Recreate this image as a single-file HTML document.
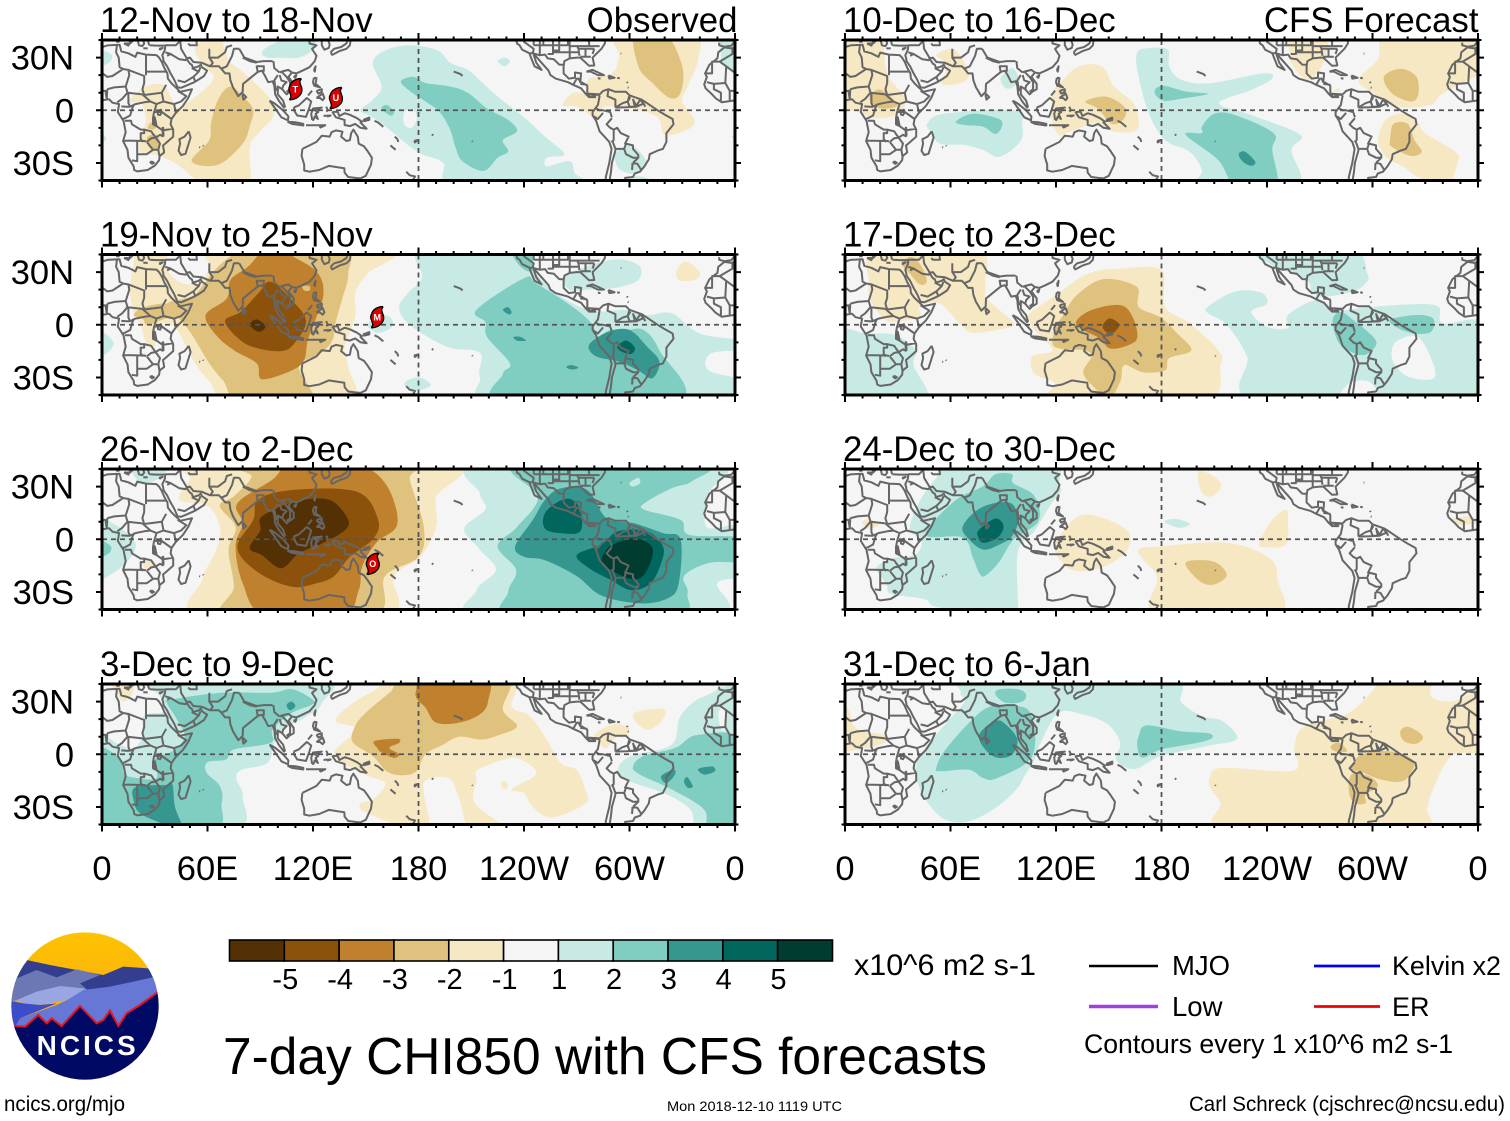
<!DOCTYPE html>
<html lang="en">
<head>
<meta charset="utf-8">
<title>7-day CHI850 with CFS forecasts</title>
<style>
html,body{margin:0;padding:0;background:#fff;}
svg{display:block;}
text{font-family:"Liberation Sans",Arial,sans-serif;fill:#000;}
</style>
</head>
<body>
<svg id="chart" xmlns="http://www.w3.org/2000/svg" width="1510" height="1121" viewBox="0 0 1510 1121">
  <defs>
    <linearGradient id="sun" x1="0" y1="0" x2="0" y2="1"><stop offset="0" stop-color="#ffc400"/><stop offset="1" stop-color="#f09a1e"/></linearGradient>
    <clipPath id="logo-clip"><circle cx="255" cy="258" r="221"/></clipPath>
  </defs>
  <g id="panels"></g>
  <g id="colorbar"></g>
  <text x="854" y="975" font-size="30" textLength="182" lengthAdjust="spacingAndGlyphs">x10^6 m2 s-1</text>
  <text x="223" y="1074" font-size="51.5" textLength="764" lengthAdjust="spacingAndGlyphs">7-day CHI850 with CFS forecasts</text>
  <text x="667" y="1111" font-size="14" textLength="175" lengthAdjust="spacingAndGlyphs">Mon 2018-12-10 1119 UTC</text>
  <text x="4" y="1111" font-size="21" textLength="121" lengthAdjust="spacingAndGlyphs">ncics.org/mjo</text>
  <text x="1189" y="1111" font-size="21" textLength="316" lengthAdjust="spacingAndGlyphs">Carl Schreck (cjschrec@ncsu.edu)</text>
  <g>
    <line x1="1089" y1="966" x2="1158" y2="966" stroke="#000" stroke-width="2.4"/>
    <text x="1172" y="975" font-size="27.5">MJO</text>
    <line x1="1314" y1="966" x2="1380" y2="966" stroke="#0000f0" stroke-width="2.8"/>
    <text x="1392" y="975" font-size="27" textLength="109" lengthAdjust="spacingAndGlyphs">Kelvin x2</text>
    <line x1="1089" y1="1006.5" x2="1158" y2="1006.5" stroke="#a040e0" stroke-width="3.4"/>
    <text x="1172" y="1016" font-size="27.5">Low</text>
    <line x1="1314" y1="1006.5" x2="1380" y2="1006.5" stroke="#f00000" stroke-width="2.8"/>
    <text x="1392" y="1016" font-size="27">ER</text>
    <text x="1084" y="1053" font-size="26.5" textLength="369" lengthAdjust="spacingAndGlyphs">Contours every 1 x10^6 m2 s-1</text>
  </g>
  <g transform="translate(0,920) scale(0.3333)">
    <g clip-path="url(#logo-clip)">
      <rect x="20" y="20" width="470" height="470" fill="url(#sun)"/>
      <polygon fill="#333f8e" points="20,190 80,120 150,135 230,150 310,165 370,140 445,145 490,190 330,215 100,200"/>
      <polygon fill="#6b78b4" points="20,205 50,175 110,150 170,172 230,148 300,165 240,190 265,212 120,232 20,245"/>
      <polygon fill="#99a6e2" points="50,240 110,215 180,198 250,205 265,212 200,240 120,255 70,250"/>
      <polygon fill="#6677d6" points="250,210 330,200 490,165 490,230 420,260 380,290 360,325 335,280 300,320 240,268 180,325 150,310 115,295 75,330 35,330 60,295 170,255 205,238"/>
      <polygon fill="#3d4cc8" points="20,240 70,250 120,255 170,250 60,295 40,330 20,330"/>
      <polygon fill="#000a64" points="20,318 75,320 115,285 140,310 155,295 185,318 240,258 290,310 310,300 330,272 355,318 380,280 420,255 490,205 490,490 20,490"/>
      <polyline fill="none" stroke="#e8141e" stroke-width="6" points="40,318 75,320 115,285 140,310 155,295 185,318 240,258 290,310 310,300 330,272 355,318 380,280 420,255 475,215"/>
    </g>
    <text x="110" y="405" font-size="84" font-weight="bold" textLength="297" lengthAdjust="spacing" style="fill:#fff">NCICS</text>
  </g>
</svg>
<script>
/* ---------- axis tick values and labels ---------- */
const lonTicks = [0, 60, 120, 180, 240, 300, 360];
const lonTickLabels = ['0', '60E', '120E', '180', '120W', '60W', '0'];
const latTicks = [30, 0, -30];
const latTickLabels = ['30N', '0', '30S'];
const panelTitles = ['12-Nov to 18-Nov', '19-Nov to 25-Nov', '26-Nov to 2-Dec', '3-Dec to 9-Dec',
                     '10-Dec to 16-Dec', '17-Dec to 23-Dec', '24-Dec to 30-Dec', '31-Dec to 6-Jan'];
const colorbarLabels = ['-5', '-4', '-3', '-2', '-1', '1', '2', '3', '4', '5'];

/* ---------- storms: [panel, letter, lon, lat] ---------- */
const storms = [[0, 'T', 110, 12], [0, 'U', 133, 7], [1, 'M', 156.5, 4.3], [2, 'O', 154, -14]];

/* ---------- filled contours: [level, lon, lat, lon, lat, ...]  level 0 = below |1| ---------- */
const contoursNov12 = [
 [1, 175,37,191,34,198,27,208,23,217,15,226,7,240,-4,252,-15,263,-25,253,-27,253,-32,266,-29,269,-36,275,-41,201,-41,194,-30,182,-25,173,-19,161,-9,152,-3,147,0,154,6,159,13.5,154,27,161,34],
 [0, 172,-1,177,0.5,179,-5,176,-10,172,-8],
 [1, 91,33,98,38,121,42,120,35,112,30,101,30,94,30],
 [1, 225,28,229,30,232,28,229,25],
 [1, 292.5,-24,301,-20,310,-30,303,-36,295,-34,292,-29],
 [1, 303,-38,311,-39,316,-41,303,-41],
 [1, -2,35,5,32,4,27,-2,25],
 [1, -1,-13,2,-15,2,-17,-1,-18],
 [1, 362,41,353,41,352,32,354,25,362,22],
 [1, 358,-15,362,-13,362,-18],
 [2, 170,16.5,177,19,184,15.5,198,13.5,208,10,219,1,231,-5.5,236,-12,228,-17,231,-23.5,225,-27,217,-34.5,205,-29,201,-21,198,-11,192,-1,184,5,175,11],
 [2, 159,1,162,3,166,-1,164,-3],
 [-1, 55,38,66,40,71,31,73,27,81,21,96,6,97,-4,89,-13,84,-21,83,-41,61,-41,43,-31,31,-25.5,22,-24,22,-15,25,-5.5,22,4,15,5,25,13.5,35,14.5,40,6,45,2,63,17,58,25,53,33],
 [-1, 293,41,336,41,339,29,333,13.5,330,5,337,-5.5,333,-11,320,-14,316,-4,301,1,286,2,281,-4,270,2,262,3,268,10,276,10,277,18,290,21,294,31],
 [-2, 73,13.5,81,7,86,0,84,-9,80,-19,66,-31,51,-29,61,-17,62,-7.5,66,6],
 [-2, 28,-7,31,-9,29,-11,26,-10],
 [-2, 26,-15,31,-14,33,-19,30,-23,26,-20],
 [-2, 303,41,320,41,330,25,329,10,323,7,313,15.5,305,25]
];
const contoursNov19 = [
 [-1, 165,41,151,29,144,18,144,5,138,-13,140,-24,140,-41,75,-41,61,-32,53,-22,44,-5,39,0,31,0,30,-12,25,-10,22,0,18,6.5,16,20,18,35,20,41,37,41,36,33,45,24,57,24,61,33,68,41],
 [-1, 327,31,332,36,340,30,337,25.5,328,25.5],
 [-2, 80,41,136,41,140,29,137,16,133,2,131,-9,124,-16.5,112,-24,119,-41,79,-41,69,-32,61,-22,52,-7,47,0,43,4.5,37,12,51,16,57,22,64,31,73,39],
 [-2, 18,5.5,24,10,38,12,45,5.5,36,3.5,26,0,23,3.5],
 [-3, 95,41,112,37,123,29,126,18,122,4.5,117,-9,115,-20,108,-26,91,-31,88,-22,75,-14.5,65,-6,59,5.5,71,15,73,25.5,83,33],
 [-2, 114,22,118,22,118,19.5,115,19.5],
 [-4, 96,24.5,108,14,116,2,109,-11,102,-15,89,-13.5,79,-9,70,2,79,7.5,89,18],
 [-5, 84,0,88,3,93,-1,89,-4],
 [1, 181,41,231,41,245,31,254,21.5,268,12,281,7.5,298,8.5,310,5.5,324,6.5,340,-5,361,-9,361,-14,346,-16.5,345,-26,361,-32,361,-41,227,-41,215,-30,215,-16,196,-12.5,175,0,169,10,174,18,182,27],
 [1, 264,28,290,37,305,34,305,25.5,292,21,277,20,266,20],
 [1, -1,-4,6.5,-10,3.5,-15.5,-1,-17],
 [1, 172,-33,180,-30,187,-34,182,-37,175,-37],
 [1, 151,0,159,5.5,165,3,164,-2,156.5,-4.5],
 [2, 213,8.5,240,26.5,247,23.5,268,10,279,0,281,-7,289,-3,298,-3,308,-3,317,-14.5,327,-41,228,-41,228,-28,232,-22,219,-7,218,1.5],
 [2, 232,41,243,41,245,31,238,33],
 [3, 277,-11.5,288,-4,300,-3,310,-12.5,317,-21,313,-30.5,305,-26,294,-21,281,-18],
 [3, 228,8.5,231,10,233,7,231,6],
 [3, 234,-7,238,-7,241,-9,236,-9],
 [3, 264,-24,267,-23,271,-24.5,267,-25.5],
 [4, 293,-12.5,298,-9,303,-13,301,-16.5,296,-15.5]
];
const contoursNov26 = [
 [-1, 57,40,197,40,190,24,190,7,181,-10,166,-21,160,-41,56,-41,57,-23,65,-6,67,7,60,19,44,22.5,50,34],
 [-1, 23.5,-14.5,27.5,-12,30.5,-14,26,-17],
 [-2, 75,40,175,40,175,34,183,7,180,-10,161,-21,153,-41,72,-41,75,-27,72,-6,76,7,67,19,75,24.5,85,36],
 [-3, 97,34,108,40,143,40,161,32,168,9,156,-2,148,-15.5,146,-29,136,-41,93,-41,80,-25,76,-4,80,9,77,20.5],
 [-4, 89,22.5,108,28,145,27,157,11,154,0,141,-10,132,-21,122,-25,108,-27,89,-19,77,-5,86,11],
 [-5, 91,13,110,21.5,129,22.5,139,13,139,6,126,-2,112,-8,102,-16.5,91,-9,84,-5,90,5],
 [1, 18,40,36,40,34.5,36,25,32,19,35],
 [1, -1,9,8,8,19,-2,15,-12,5,-20,-1,-20],
 [2, -1,-1,5,-4,4,-8,-1,-9.5],
 [1, 216,40,347,40,345,26,344,7,361,6.5,361,-19.5,350,-25,347,-41,217,-41,213,-29,224,-17.5,215,-6,206,6,218,17,215,26],
 [2, 237,40,340,40,335.5,33,324,29,310,21.5,308,17,329,11,334,2.5,361,0.5,361,-12,345,-13.5,331,-21,333,-31,324,-41,234,-41,231,-30,235.5,-17.5,225,-4,236,7,248,24],
 [1, 300,32,305,35,306,32,302,30],
 [3, 261,29,276,28,287,12,303,9,319,3.5,329,0,328,-25,322,-33.5,306,-36.5,284,-32,270,-21,252,-12,240,-10,235,-4,245,11,252,22.5],
 [4, 258,20.5,266,23,272,17,272,4.5,261,3.5,252,6,251.5,14],
 [4, 270,-9,284,-3,293.5,4.5,310,4.5,319,-4,318,-13.5,312,-25,301,-29,289,-23,277,-16.5],
 [5, 284,-12,289,-4,303,0.5,313,-5,310,-17.5,303,-23,291,-18.5,286,-14.7]
];
const contoursDec3 = [
 [1, 29,41,125,41,125,29,117,22,103,14,98,6.5,94,-5,79,-9,76.5,-14.5,80,-24,74,-41,-3,-41,-3,9,10,5.5,17,2.5,23,10,24,22,36,24.5,33,33],
 [2, 39,31,68,35,96,35,108,37,120,31,119,28,108,23.5,97,14,96,6.5,75,2.7,70.5,-3,60,-4.5,59.5,-10.5,67,-18,68,-28,61,-41,-3,-41,-3,2,10,-2,12.5,-11,20,-13.5,31,-13.5,30,-3,40,1.7,47,10,42.5,20,37,29],
 [3, 19,-18.7,36,-17.5,40,-17,41.5,-30,46,-41,33,-39,21.5,-33.5,18,-26.5],
 [3, 105,28,107.7,30,110,27.5,107,25],
 [-1, 4,41,18,41,17,34,12,30,9,34],
 [-1, 168,41,231,41,233,27,243,22,252,10,261,-5,270,-9,275,-20.5,275,-28,256,-36,245,-30,240,-22,233,-20,247,-11,238,-3,229,-3,213.5,-9,213,-15,211,-24.5,215,-31,231,-41,210,-41,203,-24.5,197,-13.5,184,-15,183,-22,184,-41,151,-33.5,147,-28,154,-26,161,-16.5,149.5,-11.6,132,0,145,14,133,19,142.5,29,156,37],
 [-1, 227,-17,228.6,-15,231,-18,228.6,-20],
 [-2, 175,41,229,41,228,25.5,236,16,226,11,216,8.4,203,10,194,5.5,184,0,177.5,-10.7,163.5,-10.7,154,-1,142.5,7,144,16,150,23.6,163.5,35],
 [-3, 178.6,36,184,41,218,41,219.5,30,214.7,22.6,203,18,190,18,184,26.5,179.4,31],
 [-3, 155,7.5,168,8.8,169,6.5,163.4,3.6,169,0,166,-2,159,1,156.5,3.6],
 [1, 293.7,-8,300.8,-1,324,5.5,329,21.7,342.6,33,361,33,361,-41,339,-41,335,-32,321.6,-23,298,-14.5],
 [0, 350.7,23.6,354,26.5,355,15,352,14.5],
 [2, 302,-7,308,-1,326,3.6,339,11,361,6.5,361,-41,345,-41,342.5,-31.6,324,-20,306,-11.6],
 [3, 318,-12.5,325,-8.8,325.8,-11.6,321,-16.4],
 [3, 331,-15.4,332.8,-13,336,-18.3,333,-19],
 [3, 339,-8.4,347,-7,348.5,-9.7,342.5,-11.6],
 [-1, 303,23.6,319,25.8,319,19.8,311,14,304,18],
 [-1, 280,11,291,17,299.5,15,298,10,292,9.3,287,3.6,283.5,5.5]
];
const contoursDec10 = [
 [-1, -2,41,19,41,23,25,26,17,34.5,6,28.6,-2.7,17,-4.6,7.7,-0.8,-2,5],
 [-1, 52,31.5,61,35,67,28.7,70.5,20,66,15.5,55,15,57.6,23,56.5,27.7],
 [-1, 124,17.3,133,25,146,25,153,13.5,164.6,3,166,-11,151.9,-12,142.5,-7.4,128.6,-12,121.6,-14,117.4,-4.5,118,9.7],
 [-1, 253,30.6,254,41,272.8,41,272.8,28.7,265.8,18,260,19,255,25],
 [-1, 310,41,361,41,361,24,340,9.7,333,3,314.7,2,300.8,9.7,292,17.3,303,28.7],
 [-1, 307.7,-5.5,317,-2,326,-7.4,329.8,-13,347,-23.6,348.4,-30,341.4,-41,325,-37.5,319,-33,307.7,-26.5,303,-17],
 [-1, 278.5,11.6,281,12.6,281.6,10.7,278.5,10.5],
 [-2, 14.6,8.8,20.5,11.6,29.8,3,20.5,1,14.6,5],
 [-2, 136.7,5,148.4,7.8,158.8,2,158.8,-4.6,151.9,-7.8,143.7,1],
 [-2, 306.5,19,316,23.6,325,19,326,8.8,321.6,5,311,9.7],
 [-2, 310,-17,312,-7.8,320,-7.8,323.9,-17,328,-23.6,321.6,-26,311,-20.8],
 [1, 47,-7.4,56.5,-2,96,0,100.7,-8.4,99.5,-18,88,-26.5,78.6,-22.7,68,-19.8,54,-19,48.4,-12],
 [1, 88.6,18.3,95,24,98.4,19,96,13.5,91.4,12.6],
 [1, 166,32.6,173,35.4,183.5,34.5,184.4,25,191.4,17.3,207.7,15.4,238,21,243,18,231,11.6,212.7,4,231,-2.7,258.9,-14,254,-22.7,256.5,-41,203,-41,203,-34,196,-23.6,182,-17,172.8,-1.7,167,19.2],
 [2, 63,-6.5,72.8,-2,86.7,-4.6,89.5,-8.4,85.6,-13.5,78.4,-9.3,68,-8.4],
 [2, 176,10.7,181,14,193.7,10.7,206.5,9.3,193.7,7,181,5.5],
 [2, 203,-9.3,210,-2,221.7,-2.7,243.7,-13,243,-22.7,245,-41,222.8,-41,212.3,-28.4,193.7,-14,203,-13],
 [3, 223.9,-25,227.5,-23.6,233.3,-29.3,231,-31.6,226.3,-29.3]
];
const contoursDec17 = [
 [-1, 18,41,75,41,79.8,23.6,79.8,16,85.6,10.3,96,1,91.4,-2,72.8,-4.6,65.8,0,54,12,42.5,10.3,42.5,4.6,28.6,1.7,21.6,3.6,14.6,14,13.5,23.6],
 [-1, 105,6.5,121.6,18,138,29,156.5,32,179.8,31,182,10.3,196,0.8,212.3,-14.5,213.5,-23,203,-41,119.3,-41,119.3,-33.5,107.7,-27.8,106.5,-18,118,-14.5,107.7,-3,105.4,1.7],
 [-2, 32,35,38,38.5,43.7,33,46.5,24.6,42.5,23,36.7,29.3],
 [-2, 124,5.5,132,17,147,26,165.8,21.7,167,10.3,179.8,4,189,-5,197,-14.5,184.4,-19,182,-26,169.3,-27,158.8,-23,156.5,-32.6,149.5,-41,145,-39,135.6,-27.8,140.2,-18,135.6,-14.5,119.3,-12.6,119.3,-3],
 [-3, 131.4,1.7,140.2,8.4,156.5,11.2,163.5,4.6,166.3,-7,161.2,-11.6,150.7,-13.5,145,-7.8,135.6,-3],
 [-4, 146.7,0,150.7,3.6,156,0,152,-5,147.7,-3.4],
 [1, -2,-5,12.3,-5,28.6,-5.9,40.2,-14.5,39,-23,45,-41,-2,-41],
 [1, 206.5,10.3,221.7,18.9,236.7,18.3,240,12,231,7.4,240,-1.1,251.9,-2,251.9,5.5,268,14,281,8.4,300.8,10.3,335.5,11.2,340,0.8,361,0,361,-41,235.6,-41,228.6,-18,217,0,206.5,6.5],
 [0, 281,-41,286.7,-33.5,298.4,-32.6,303,-41],
 [0, 311,-14.5,314.7,-8.8,326,-7,334.4,-22,334.4,-30.7,320.5,-29.7,312.3,-22],
 [1, 232,41,286.7,41,297,29.3,296,23.6,289,19,273,16,266,18,263,25,250,31,241,35],
 [2, 277.5,3.6,282,7.4,289,2.7,295,-2,301.9,-8.8,300.8,-13.5,296,-17,290,-16.4,282,-11.6,278.6,-5],
 [2, 310,2.7,324,5.5,334.4,3.6,333.3,-4,324,-5,314.7,-2]
];
const contoursDec24 = [
 [1, 52,35,60,41,117,41,121.6,31,122.8,27.4,117,19.8,107.7,4.6,98.4,-6.9,98.4,-37.3,97,-41,54,-39,45,-34,26.3,-31.2,24,-26.5,21.6,-22.7,18,-16,27.4,-10.7,40.2,-8.8,43.7,0,36.7,5.5,42.5,21.7],
 [1, 181.6,10,188,11.6,196,8.8,190.3,6.5],
 [2, 46,2.7,62.3,21.7,78.6,30.3,85.6,37,95,37,95.6,32,107.7,24.6,110,10.3,96,0,87.9,-12.6,79.8,-20.8,76.3,-19.2,72.8,-10.7,67,1],
 [3, 67,7.4,77.5,18,93.7,20.8,98.4,11.2,95,1.7,87.9,-3,78.6,-5.9,70.5,0],
 [4, 76.3,5.5,85.6,11.8,90.2,7.4,86.7,0.8,78.6,-2,75.6,1.7],
 [-1, 200.7,38,207.7,37,214,31,209,24.6,203,26.5],
 [-1, 235.6,-2,242.5,10.3,250.7,17,251.9,10.3,250.7,-3,239,-4.6],
 [-1, 120.5,-0.2,135.6,14,160,5.5,160,-6.9,145,-16.4,128.6,-17.3,119.3,-6.9],
 [-1, 167,-5.9,179.8,-4,217,-2,241.4,-10.7,246,-23,245,-41,177.5,-41,177.5,-22,170.5,-12.6],
 [-1, 9.5,10,14.6,11.2,19.3,8.4,13.5,6],
 [-1, 345,11.2,354,13,360,9.3,349.5,8.4],
 [-2, 193.7,-13.5,205,-12,213,-14.5,217,-21,208.8,-26,200.7,-23]
];
const contoursDec31 = [
 [1, 65.8,35,75,41,180.9,41,191.4,29.3,203,21.7,214.7,18.9,222.8,8.8,205.4,4.6,179.8,-1,164.6,-8.4,154.2,-3,156.5,6.5,149.5,17,135.6,22.6,121.6,23.6,112,8,107.7,-3,101.9,-12.6,98.4,-18.9,89,-28,77.5,-35.4,65.8,-39,54,-35.4,43.7,-22,40.2,-8.8,45,2.7,57.7,17.9,68,30],
 [2, 85.6,34,88,37,98.4,37,103,34,100.7,30,91.4,29.3],
 [2, 51.9,-7.8,56.5,1.7,70.5,17.9,80.9,26.5,91.4,27.7,105.4,23.6,106.5,-1,86.7,-13.5,78.6,-13.5,70.5,-8.8,54,-9.7],
 [2, 167,10.3,171.6,16.4,191.4,13,206.5,12,208.8,9.3,200.7,6.5,179.8,2.7,169.3,-2,166.3,3.6],
 [3, 76.3,11.2,85.6,18.9,91.4,17,98,8.4,95,-0.2,86.7,-2,79.8,2.7],
 [-1, 0,27.4,3,23.6,4.2,17.3,10,13,21.6,11.2,24,7.4,12.3,3.6,-2,3.6,-2,27.4],
 [-1, 207.7,-12.6,214.7,-7.8,252,-9.7,257.7,-5,255.4,1.7,258.9,14,270.4,18.9,286.7,23.6,300.8,37,305.4,41,332,41,333.2,33,344.8,30,361,35,361,3.6,344.8,-1,333.2,-23,331,-30.7,322.8,-41,217,-41,213.5,-27.8,207.7,-19],
 [-2, 315.8,13,320.5,15.6,328.6,10.3,325,6,318,7.4],
 [-2, 288,-7.8,293.7,-0.2,310,1.7,322.8,-3,322.8,-8.8,317,-15.4,305.4,-14.5,295,-10.7],
 [-2, 286.7,-22,288,-11.6,298.4,-12.6,303,-18.3,296,-23,296,-27.8,290,-27.8],
 [-2, 276.3,4.6,281,6.5,285.6,1.7,278.6,1.7]
];
const panelContours = [contoursNov12, contoursNov19, contoursNov26, contoursDec3,
                       contoursDec10, contoursDec17, contoursDec24, contoursDec31];

/* ---------- geography in lon/lat (coast, islands, borders) ---------- */
const coastLines = [
 [-6,35.8,-2,35.2,3,36.9,10,37.3,11,33.5,15,32.4,19,30.4,20,32.8,25,31.7,31,31.4,32.5,30,34,27.5,35.5,24,37.2,21,37.5,18,39.5,15.3,43,12,44.5,10.5,51.2,12,49,7,46,2.5,42,-1.5,39.5,-5,39,-8,40.5,-11,40.5,-15,36,-19,34.7,-20,35.4,-24,32.8,-26,32.5,-28.5,30,-31.5,26,-34,20,-34.8,18.3,-34,18,-32,15,-27,14.5,-22.5,12,-17.5,13.5,-12.5,12.2,-6,9,-1,9.7,3.5,6,4.3,4,6.3,0,5.6,-4.5,5,-7.5,4.5,-11,6.8,-13.5,9.5,-16.7,12.5,-17.5,14.7,-16,19,-17,21,-14.5,26,-10,29.5,-9.5,33,-6,35.8],
 [27,37,31,36.8,36,36.8,35.8,34.5,34.3,31.3,34.8,29.5,35,28,37,25,39,21,41,17.5,43,13,45,12.8,49,14.5,52.5,16,55,17.5,58,19.5,59.8,22.5,56.8,24.5,56.2,26,55,25,51.8,24,51,26,50,26.5,48,29.5,50,30,52,27.5,56.8,27,61.5,25,66.5,25,68,23.5,70,21,72.5,21,73,17,74.5,13,77.5,8,80,10.5,80.2,15,82.5,16.8,87,20.5,89,22,91,22.5,92.5,20,94.5,16,97,16.5,98,14,98.5,9,100.5,5.5,103.5,1.5,104,2,103,5.5,100,9,100,13.5,102.5,12,105,9,106.5,10.5,109,12,109,15,106,19,108,21.5,110.5,21,114,22.5,118,24.5,121,28,122,31,120,34,119.5,35,122,37,118,38,118,39.5,121.5,41],
 [125,41,125,37,126.5,34.5,129,35.5,129.5,37.5,128,41],
 [130,33,131,31.5,135,33.7,139,35,141,37,141.5,41,140,41,139,38,136,36,132,35,130,33],
 [120.5,23,121.5,25,121,22,120.5,23],
 [109,19,110.5,20,110,18.5,109,19],
 [-9,38.5,-9,37,-6,36.2,-2,36.8,0,39.5,0.5,41],
 [15.5,41,16,38,18,40],[12.5,38,15.5,38,15,36.8,12.5,38],[8.5,41,9.5,39,8.5,39,8.5,41],
 [20,41,21,37,23,36.5,24,38,23,41],[26,41,26.5,38,27,37],[23.5,35.3,26,35.2],[32.5,35,34.5,35.5,33,34.6,32.5,35],
 [49,38,50,37,54,37,53.5,41],
 [49.3,-12,50.4,-15.5,47.5,-24.8,45,-25.5,43.5,-23,44.4,-19,44,-16.5,47,-15,49.3,-12],
 [80,9.5,82,7.5,80.5,6,80,8,80,9.5],
 [95.3,5.5,98,4,103,0,106,-3.5,105.8,-5.8,102,-4,98.5,1,95.3,5.5],
 [105.5,-6.5,110,-6.8,114.5,-7.7,114.5,-8.7,108,-7.8,105.5,-6.5],
 [116,-8.5,119,-8.5,125,-8.5,127,-8.5],[124,-10,127,-8.5,124,-9.5,124,-10],
 [109,1.5,112,2.8,116.5,7,119,5,117.8,1,116,-3.8,111,-3,109.5,-0.5,109,1.5],
 [119.5,-5.5,119,-2,120,1,125,1.5,121,0,123,-1,121.5,-2,122.8,-5,121,-3.5,120.3,-5.5,119.5,-5.5],
 [120.5,18.5,122,18.3,121.5,15,124,13,120.7,14,120,16,120.5,18.5],
 [122,7,125.5,9.5,126.5,7,125.5,5.7,124,7,122,7],
 [117.2,8.4,119.5,11.2],[122,11,125,12,125,10.5,123,9.5,122,11],
 [127.5,2,128.5,0,127.5,-0.7],[126,-3.2,130,-3,128,-3.7],
 [131,-1,134,-0.8,135,-3.3,138,-1.7,141,-2.6,145,-4.5,147.8,-6.5,147,-7,150.5,-10.5,147,-10,144,-7.8,141,-9,138,-8.4,138,-5.5,133,-4,131,-1],
 [148.5,-5.5,152,-4.2,152,-5.5,149,-6.2,148.5,-5.5],
 [114,-22,113.5,-26,115,-31,115,-34.3,118,-35,123.5,-34,129,-31.7,134,-32.5,137.8,-33,138,-35.5,140,-38,144,-38.5,147,-38.8,150,-37.3,153,-31,153.5,-27,150.8,-23,149,-20.5,146,-19,145.5,-15,143,-11,141.7,-13,141,-17,139,-17.5,136,-15,136.8,-12.2,133,-11.5,130.5,-12.5,129.5,-15,125,-14.5,122,-18,118,-20,114,-22],
 [173,-35,175,-37,178,-37.7,176,-41],
 [155,-6,157,-7,160,-9.5],[166.5,-15,168,-16.5,168.5,-18],[164,-20,167,-22.5],[177.5,-17.5,179.5,-17,178,-18.3,177.5,-17.5],[187.5,-13.8,188.5,-14.2],
 [200,22,202,21.3,204,20.5,205,19.5],[210.5,-17.5,210.8,-17.9],[55.3,-21,55.8,-21.2],[57.4,-20,57.7,-20.4],
 [235.5,41,236,38,237.5,37,239,34.5,243,32.5,244,30,246,25,250,23,247,27,245.5,31.5,246.5,31,250,27,254,22.5,255,20,258,18,265,16,268,14.5,272.5,12.5,275,9.5,277,7.5,280,8.5,282,9,283,8,282,3,279,-1,279,-3,281,-6,283,-12,288.5,-18,289.8,-22,288.5,-30,286.5,-38,286.5,-41],
 [298,-41,297.5,-38.5,302,-38,303,-36,306,-35,308.5,-32,311,-28,311.5,-25,316,-23,319,-22,321,-18,321,-13,325,-8,324.5,-5,320,-2.5,316,0,310,4,307,6,300,8.5,298,10.5,292,10.5,288,12,285,11,283,9],
 [283,9,276,9.5,276,14,273,15.8,272,16,272.5,21,269,21.5,269,18.5,265.5,18,262.5,21,262.5,25,263,28,266,29.5,270,30,272,30,277,25.3,280,25.5,279,30,284,35,286,38,286,41],
 [275.5,22,279,23,285.5,20,282,20,278,22,275.5,22],[288,19.8,291.5,18.5,288.5,18,288,19.8],[282,18.2,283.5,18],[293,18.4,294.5,18.2],[299,13,299.5,12.8],[298.5,16.2,299,15.5],[295,32.3,295.4,32.2]
];
const borderLines = [
 [-1.5,35,-1.5,32,-8.7,27.7,-5,25,3,19,6,19.5,12,23.5],[-17,21,-13,21,-13,27.7,-8.7,27.7],[-12,15,-5.5,15.5,-5,25],
 [8.5,37,8,33,9.5,30,10,24.5,12,23.5],[12,23.5,15,23,15.5,20,13.5,13.5],[15,23,24,19.5],[25,31.7,25,20],[24,20,24,15.5,23,12,24,8.7],[25,22,36.8,22],
 [-12,15,-16,16],[-12,15,-12,12,-8,10,-8,4.5],[-5.5,15.5,-3,11,-3,5],[-3,11,2,11,2.7,6.3],[3,12,7,13,13.5,13.5],[2.7,6.3,3,12],[13.5,13.5,14.5,10,11.5,6.5,8.7,4.5],
 [15,10,15,4,16,2],[16,2,19,3.5,24,4.5,27.5,5],[23,9,27.5,5],[14.5,10,23,9],[34,10,35,5,41,3.5,42,-1.5],[36.5,14.5,34,10],[24,8.7,34,10],[43,11,48,8,45,5,41,3.5],[27.5,5,31,3.5,35,5],
 [34,-1,39.2,-4.7],[31,3.5,29.5,-1.5,29,-4.5,29,-8,31,-9,34.5,-11.5,40.5,-10.5],[30,-1,34,-1],[34.5,-9.5,35,-15],[35,-15,33,-14,30.5,-15.6],
 [13,-6,16.5,-6,17,-8,22,-11,24,-11,24,-13,22,-13,22,-16.5,23.5,-18],[12,-17.3,24,-17.5,25,-17.8],[20,-18,20,-29,17,-28.5],[20,-22,20,-25,25.5,-25,29,-22.5,25.5,-18],[32.8,-27,32,-22.4,33,-19,30.5,-15.6],[29,-22.5,32,-22.4],[30.5,-15.6,28,-16,25.5,-18],[24,-11,28,-12,29,-13.5,30.5,-15.6],
 [12,-5,13,-4.5,16,-3,17.5,2,18.5,3.5],[11,2.2,14,2,16,2],[28,-29,29.5,-30,28.5,-30.5,27.5,-29.7,28,-29],
 [31.8,-1,33.5,0.3,34,-1,33,-2.8,31.8,-2.5,31.8,-1],[29.3,-4,30,-8,31,-8.5,30,-4,29.3,-4],[34.5,-10,34.5,-14,35,-14,34.8,-10,34.5,-10],
 [37,31,39,32,44,29,48,28.5],[36,33,39,32],[36,37,42,37,44.5,39.5,45,35,48,30],[43,17,47,16,52,19,53,16.5],[55,22,52,19],[51,24,55,22,56,24.5],
 [61.5,25,63,27,61,30,61,35],[61,30,66,30,70,33,71,36,74,37],[68,23.7,71,25,74,31,75,35,78,35],[78,35,81,30,88,27.5,92,28,97,28],[88.5,22,88,25,92,25,92,22],[97.5,28,98,24,101,21.5],[100,20,98,17,99,11],[102,22,105,19,107,16,107,12,105,10.5],[101,20,102,17,105,16,103,14,102.5,12],[102,22,106,23,108,21.5],[101,21.5,102,22],[80,30,84,28,88,27],
 [288,12,287.5,8,292,6,292,1.5],[281,1,283,0,285,0,289,-1,290,-4],[279.7,-3.5,282,-5,285,-1.5],[277,7.5,281,7.5],[290,-4.5,287,-8,289,-10,291,-11,293,-10,295,-13,299.5,-15,297.5,-19,298,-19],[289.7,-18,291,-17,291,-11],[290.5,-18,292,-22,292,-23],[292,-22,297,-22],[297,-22,298,-19,302,-20,302,-22,305,-25.5,305,-27,302,-27,298,-25,297,-22],[292,-23,290,-30,289.5,-35,288.5,-41],[302,-30,304.5,-30.5,306.5,-33.7],[301.7,-30,301.5,-34],[305,-27,302,-30],[292,1.5,296,4,299,5,300.5,7.5],[300,8.5,299,5,300,2,303,2,302,6.5],[302,6,304,2.5,306,6],[306,6,308,3.8,309,2],[292,1.5,298,1.7,304,2,308,3.8],[268,14.5,270,18,271,18,272,16],[272,15,276,14.5],[277,7.5,277,9],
 [243,32.5,245,32.5,249,31.3,252,31.7,253.5,29.5,257,29,260,26,262.5,25.9],[240,41,240,39,245.5,35,245,32.5],[245.5,41,245.5,37],[249,41,249,31.3],[251,41,251,37],[256.5,41,256.5,32,253.5,32],[245.5,37,265,37,265,41],[235.5,40,241,40],[256.5,33,266,33],[266,41,266,33,266,29.5],[270,37,271,35,271.5,31],[275,35,275,31],[266,36.5,277,36.5,283,36.5],[266,33,271,33],[271,35,280,35],[280,35,279,32],[272,30.5,278,30.5],[277,36.5,277,39,275,41],[260,41,260,34,256.5,34]
];

/* ---------- colours for contour levels ---------- */
const levelColors = {'-5':'#543005','-4':'#8c510a','-3':'#bf812d','-2':'#dfc27d','-1':'#f6e8c3','0':'#f5f5f5','1':'#c7eae5','2':'#80cdc1','3':'#35978f','4':'#01665e','5':'#003c30'};

/* ---------- layout ---------- */
const PANEL_W = 633, PANEL_H = 140.5;
const colLeft = [102, 845];
const rowTop = [40, 254.5, 469, 684];
const SVGNS = 'http://www.w3.org/2000/svg';
const root = document.getElementById('panels');

function make(tag, attrs, parent) {
  const el = document.createElementNS(SVGNS, tag);
  for (const k in attrs) el.setAttribute(k, attrs[k]);
  parent.appendChild(el);
  return el;
}
function xAxis(panel, lon) { return panel.left + lon / 360 * PANEL_W; }
function yAxis(panel, lat) { return panel.top + (40 - lat) / 80 * PANEL_H; }

/* closed smooth path through the contour's lon/lat vertices */
function contourPath(panel, rec) {
  const pts = [];
  for (let i = 1; i < rec.length; i += 2) {
    let lon = rec[i], lat = rec[i + 1];
    if (lat >= 40) lat += 3;
    if (lat <= -40) lat -= 3;
    if (lon >= 361) lon += 3;
    if (lon < 0 && lon <= -2) lon -= 3;
    pts.push([xAxis(panel, lon), yAxis(panel, lat)]);
  }
  const n = pts.length, k = 0.17;
  let d = 'M' + pts[0][0].toFixed(1) + ' ' + pts[0][1].toFixed(1);
  for (let i = 0; i < n; i++) {
    const p0 = pts[(i - 1 + n) % n], p1 = pts[i], p2 = pts[(i + 1) % n], p3 = pts[(i + 2) % n];
    const c1x = p1[0] + (p2[0] - p0[0]) * k, c1y = p1[1] + (p2[1] - p0[1]) * k;
    const c2x = p2[0] - (p3[0] - p1[0]) * k, c2y = p2[1] - (p3[1] - p1[1]) * k;
    d += 'C' + c1x.toFixed(1) + ' ' + c1y.toFixed(1) + ' ' + c2x.toFixed(1) + ' ' + c2y.toFixed(1) + ' ' + p2[0].toFixed(1) + ' ' + p2[1].toFixed(1);
  }
  return d + 'Z';
}
function geoPath(panel, lines, shift) {
  let d = '';
  lines.forEach(function (line) {
    for (let i = 0; i < line.length; i += 2) {
      d += (i ? 'L' : 'M') + xAxis(panel, line[i] + shift).toFixed(1) + ' ' + yAxis(panel, line[i + 1]).toFixed(1);
    }
  });
  return d;
}

panelTitles.forEach(function (title, idx) {
  const col = idx < 4 ? 0 : 1, row = idx % 4;
  const panel = { left: colLeft[col], top: rowTop[row] };
  const g = make('g', {}, root);
  
  

  const clip = make('clipPath', { id: 'clip' + idx }, g);
  make('rect', { x: panel.left, y: panel.top, width: PANEL_W, height: PANEL_H }, clip);

  const clipped = make('g', { 'clip-path': 'url(#clip' + idx + ')' }, g);
  const bg = make('rect', { x: panel.left, y: panel.top, width: PANEL_W, height: PANEL_H, fill: levelColors['0'] }, clipped);
  
  

  panelContours[idx].forEach(function (rec) {
    const p = make('path', { d: contourPath(panel, rec), fill: levelColors[String(rec[0])] }, clipped);
    
    
  });

  const coast = make('path', { d: geoPath(panel, coastLines, 0) + geoPath(panel, coastLines, 360) + geoPath(panel, borderLines, 0) + geoPath(panel, borderLines, 360), fill: 'none', stroke: '#666', 'stroke-width': 2, 'stroke-linejoin': 'round' }, clipped);
  
  

  const eq = make('line', { x1: panel.left, x2: panel.left + PANEL_W, y1: yAxis(panel, 0), y2: yAxis(panel, 0), stroke: '#555', 'stroke-width': 1.8, 'stroke-dasharray': '5 4' }, clipped);
  
  
  const dl = make('line', { x1: xAxis(panel, 180), x2: xAxis(panel, 180), y1: panel.top, y2: panel.top + PANEL_H, stroke: '#555', 'stroke-width': 1.8, 'stroke-dasharray': '5 4' }, clipped);
  
  

  storms.filter(function (s) { return s[0] === idx; }).forEach(function (s) {
    const cx = xAxis(panel, s[2]), cy = yAxis(panel, s[3]);
    const sg = make('g', { transform: 'translate(' + cx.toFixed(1) + ',' + cy.toFixed(1) + ')' }, g);
    
    
    const swirl = 'M-5,-3C-4,-7 0,-9.5 5,-10C3,-8 4,-6 5,-3C6.5,0 6,4 3.5,6C2,8 -1,9.5 -5,10C-3,8 -4,6 -5,3C-6.5,0 -6,-1.5 -5,-3Z';
    make('path', { d: swirl, fill: '#000', stroke: '#000', 'stroke-width': 2.6, 'stroke-linejoin': 'round' }, sg);
    make('path', { d: swirl, fill: '#d80000' }, sg);
    const lt = make('text', { x: 0, y: 3.2, 'text-anchor': 'middle', 'font-size': 9, 'font-weight': 'bold', style: 'fill:#fff' }, sg);
    lt.textContent = s[1];
    
    
  });

  /* frame */
  const frame = make('rect', { x: panel.left, y: panel.top, width: PANEL_W, height: PANEL_H, fill: 'none', stroke: '#000', 'stroke-width': 3 }, g);
  
  

  /* ticks */
  let ticks = '';
  for (let lon = 0; lon <= 360; lon += 10) {
    const len = lonTicks.indexOf(lon) >= 0 ? 7 : 3.5, x = xAxis(panel, lon);
    ticks += 'M' + x + ' ' + (panel.top - len) + 'V' + panel.top + 'M' + x + ' ' + (panel.top + PANEL_H) + 'V' + (panel.top + PANEL_H + len);
  }
  for (let lat = -40; lat <= 40; lat += 10) {
    const len = latTicks.indexOf(lat) >= 0 ? 6 : 3.5, y = yAxis(panel, lat);
    ticks += 'M' + (panel.left - len) + ' ' + y + 'H' + panel.left + 'M' + (panel.left + PANEL_W) + ' ' + y + 'H' + (panel.left + PANEL_W + len);
  }
  const t = make('path', { d: ticks, stroke: '#000', 'stroke-width': 2, fill: 'none' }, g);
  
  

  /* panel title */
  const tt = make('text', { x: panel.left - 2, y: panel.top - 8, 'font-size': 34.8 }, g);
  tt.textContent = title;
  
  

  /* latitude labels */
  if (col === 0) {
    latTicks.forEach(function (lat, i) {
      const l = make('text', { x: 74, y: yAxis(panel, lat) + 12, 'text-anchor': 'end', 'font-size': 34.5 }, g);
      l.textContent = latTickLabels[i];
      
      
    });
  }
  /* longitude labels */
  if (row === 3) {
    lonTicks.forEach(function (lon, i) {
      const l = make('text', { x: xAxis(panel, lon), y: 880, 'text-anchor': 'middle', 'font-size': 34.5 }, g);
      l.textContent = lonTickLabels[i];
      
      
    });
  }
});

const obs = make('text', { x: 737.5, y: 32, 'text-anchor': 'end', 'font-size': 34.8 }, root);
obs.textContent = 'Observed';


const fc = make('text', { x: 1478.5, y: 32, 'text-anchor': 'end', 'font-size': 34.8 }, root);
fc.textContent = 'CFS Forecast';



/* ---------- colour bar ---------- */
const cbRoot = document.getElementById('colorbar');
const cbLevels = [-5, -4, -3, -2, -1, 0, 1, 2, 3, 4, 5];
const CB_LEFT = 229.5, CB_W = 603, CB_TOP = 940, CB_H = 21;
function cbX(i) { return CB_LEFT + i * CB_W / cbLevels.length; }
cbLevels.forEach(function (lv, i) {
  const r = make('rect', { x: cbX(i), y: CB_TOP, width: CB_W / cbLevels.length, height: CB_H, fill: levelColors[String(lv)], stroke: '#000', 'stroke-width': 1.6 }, cbRoot);
  
  
});
colorbarLabels.forEach(function (txt, i) {
  const l = make('text', { x: cbX(i + 1) + (txt.charAt(0) === '-' ? 1 : 0.8), y: 989, 'text-anchor': 'middle', 'font-size': 29 }, cbRoot);
  l.textContent = txt;
  
  
});
</script>
</body>
</html>
